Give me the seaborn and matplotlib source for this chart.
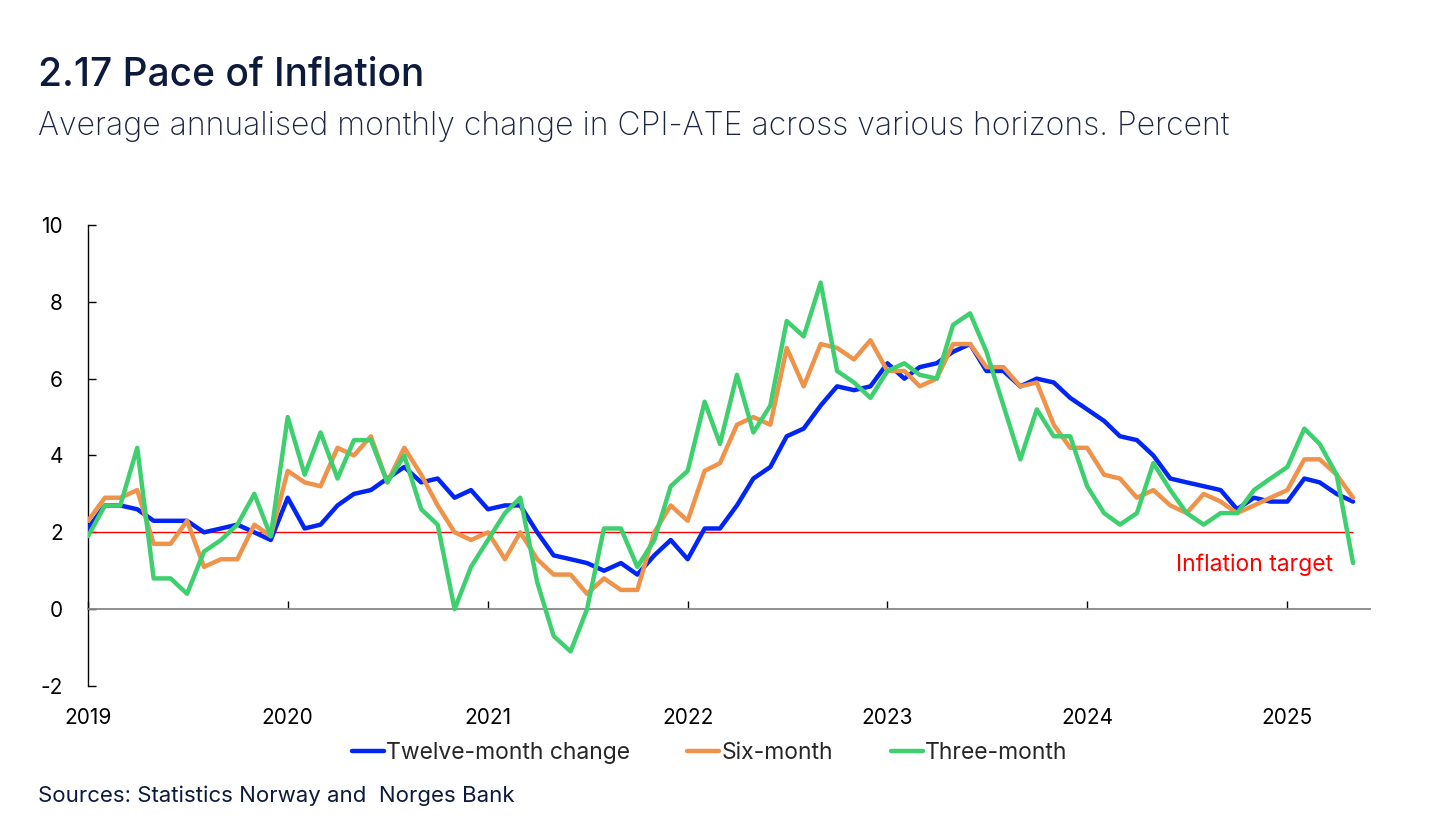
import numpy as np
import pandas as pd
import seaborn as sns
import matplotlib.pyplot as plt
import matplotlib.transforms as mtransforms

# monthly observations Jan 2019 - May 2025
months = pd.date_range("2019-01-01", "2025-05-01", freq="MS")

twelve_month = [2.1, 2.7, 2.7, 2.6, 2.3, 2.3, 2.3, 2.0, 2.1, 2.2, 2.0, 1.8,
                2.9, 2.1, 2.2, 2.7, 3.0, 3.1, 3.4, 3.7, 3.3, 3.4, 2.9, 3.1,
                2.6, 2.7, 2.7, 2.0, 1.4, 1.3, 1.2, 1.0, 1.2, 0.9, 1.4, 1.8,
                1.3, 2.1, 2.1, 2.7, 3.4, 3.7, 4.5, 4.7, 5.3, 5.8, 5.7, 5.8,
                6.4, 6.0, 6.3, 6.4, 6.7, 6.9, 6.2, 6.2, 5.8, 6.0, 5.9, 5.5,
                5.2, 4.9, 4.5, 4.4, 4.0, 3.4, 3.3, 3.2, 3.1, 2.6, 2.9, 2.8,
                2.8, 3.4, 3.3, 3.0, 2.8]
six_month = [2.3, 2.9, 2.9, 3.1, 1.7, 1.7, 2.3, 1.1, 1.3, 1.3, 2.2, 1.9,
             3.6, 3.3, 3.2, 4.2, 4.0, 4.5, 3.3, 4.2, 3.5, 2.7, 2.0, 1.8,
             2.0, 1.3, 2.0, 1.3, 0.9, 0.9, 0.4, 0.8, 0.5, 0.5, 2.0, 2.7,
             2.3, 3.6, 3.8, 4.8, 5.0, 4.8, 6.8, 5.8, 6.9, 6.8, 6.5, 7.0,
             6.2, 6.2, 5.8, 6.0, 6.9, 6.9, 6.3, 6.3, 5.8, 5.9, 4.8, 4.2,
             4.2, 3.5, 3.4, 2.9, 3.1, 2.7, 2.5, 3.0, 2.8, 2.5, 2.7, 2.9,
             3.1, 3.9, 3.9, 3.5, 2.9]
three_month = [1.9, 2.7, 2.7, 4.2, 0.8, 0.8, 0.4, 1.5, 1.8, 2.2, 3.0, 1.9,
               5.0, 3.5, 4.6, 3.4, 4.4, 4.4, 3.3, 4.0, 2.6, 2.2, 0.0, 1.1,
               1.8, 2.5, 2.9, 0.7, -0.7, -1.1, 0.0, 2.1, 2.1, 1.1, 1.8, 3.2,
               3.6, 5.4, 4.3, 6.1, 4.6, 5.3, 7.5, 7.1, 8.5, 6.2, 5.9, 5.5,
               6.2, 6.4, 6.1, 6.0, 7.4, 7.7, 6.7, 5.3, 3.9, 5.2, 4.5, 4.5,
               3.2, 2.5, 2.2, 2.5, 3.8, 3.1, 2.5, 2.2, 2.5, 2.5, 3.1, 3.4,
               3.7, 4.7, 4.3, 3.5, 1.2]
target = 2.0
years = list(range(2019, 2026))

series_names = ["Twelve-month change", "Six-month", "Three-month"]
colors = ["#0025f5", "#ef934a", "#3ecf6e"]

df = pd.DataFrame({"month": months,
                   series_names[0]: twelve_month,
                   series_names[1]: six_month,
                   series_names[2]: three_month})
long = df.melt(id_vars="month", var_name="series", value_name="pct")

sns.set_theme(style="white")
plt.rcParams["font.family"] = ["Inter", "DejaVu Sans"]
plt.rcParams["axes.unicode_minus"] = False

fig = plt.figure(figsize=(14.45, 8.19), dpi=100)
ax = fig.add_axes([0.0609, 0.1624, 0.8872, 0.5629])

ax.hlines(target, months[0], months[-1], color="red", lw=1, zorder=1)
sns.lineplot(data=long, x="month", y="pct", hue="series", hue_order=series_names,
             palette=colors, linewidth=3.2, ax=ax, zorder=3)

ax.set_xlim(pd.Timestamp("2019-01-01"), pd.Timestamp("2025-06-01"))
ax.set_ylim(-2, 10)
ax.set_yticks(range(-2, 11, 2))
ax.set_xticks([pd.Timestamp(f"{y}-01-01") for y in years])
ax.set_xticklabels([str(y) for y in years])
ax.set_xlabel("")
ax.set_ylabel("")

for s in ["top", "right"]:
    ax.spines[s].set_visible(False)
ax.spines["left"].set_color("black")
ax.spines["left"].set_linewidth(1)
ax.spines["bottom"].set_position(("data", 0))
ax.spines["bottom"].set_color("#888888")
ax.spines["bottom"].set_linewidth(1.3)

ax.tick_params(axis="y", direction="in", length=6, width=1, color="black",
               pad=18, labelsize=15, labelcolor="black", left=True)
ax.tick_params(axis="x", direction="in", length=6, width=1, color="black",
               pad=71, labelsize=15, labelcolor="black", bottom=True)

trans = mtransforms.blended_transform_factory(ax.transAxes, ax.transData)
ax.text(0.971, 1.15, "Inflation target", transform=trans, ha="right",
        va="center", color="red", fontsize=16.5)

handles, labels = ax.get_legend_handles_labels()
ax.legend(handles, labels, loc="center", bbox_to_anchor=(0.491, 0.0806),
          bbox_transform=fig.transFigure, ncol=3, frameon=False,
          handlelength=1.4, handletextpad=0.1, columnspacing=2.5, fontsize=16.5)

fig.text(38 / 1445, 1 - 75 / 819, "2.17 Pace of Inflation", fontsize=28,
         fontweight="medium", color="#0c1a3c", va="center")
fig.text(38 / 1445, 1 - 127 / 819,
         "Average annualised monthly change in CPI-ATE across various horizons. Percent",
         fontsize=23, fontweight="light", color="#1c2540", va="center")
fig.text(38 / 1445, 1 - 796 / 819, "Sources: Statistics Norway and  Norges Bank",
         fontsize=16, color="#0c1a3c", va="center")

fig.savefig("out.png", dpi=100)
